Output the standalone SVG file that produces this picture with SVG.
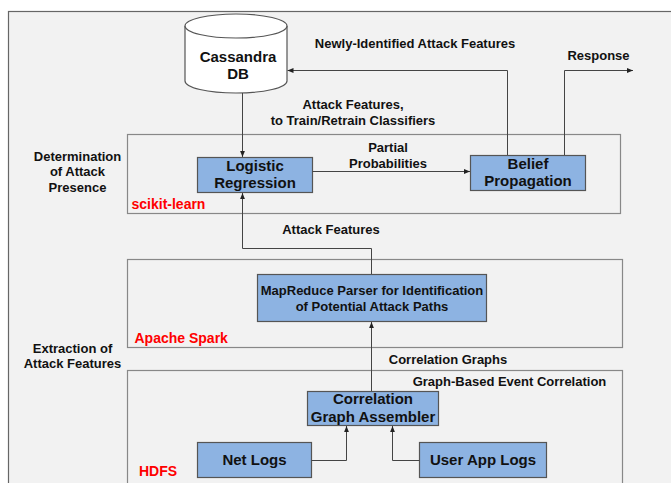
<svg xmlns="http://www.w3.org/2000/svg" width="671" height="483" viewBox="0 0 671 483">
<defs>
<marker id="ah" viewBox="0 0 10 10" refX="10" refY="5" markerWidth="6" markerHeight="6" markerUnits="userSpaceOnUse" orient="auto">
<path d="M0,1 L10,5 L0,9 z" fill="#222"/>
</marker>
</defs>
<style>
text{font-family:"Liberation Sans",Arial,sans-serif;font-weight:bold;fill:#111;text-anchor:middle}
.frame{fill:#f2f2f2;stroke:#666;stroke-width:1.2}
.cont{fill:none;stroke:#888;stroke-width:1.2}
.box{fill:#8db3e2;stroke:#555;stroke-width:1.2}
.conn{fill:none;stroke:#444;stroke-width:1}
.red{fill:#ff0000;text-anchor:start;font-size:14px}
.lbl{font-size:13px}
.bt{font-size:15px}
</style>
<rect width="671" height="483" fill="#ffffff"/>
<rect class="frame" x="8.5" y="11.5" width="700" height="500"/>

<g id="containers">
<rect class="cont" x="127.5" y="134.5" width="493" height="79"/>
<rect class="cont" x="127.5" y="259.5" width="495" height="88"/>
<rect class="cont" x="127.5" y="370.5" width="495" height="130"/>
</g>

<g id="labels">
<text class="lbl" x="415" y="48">Newly-Identified Attack Features</text>
<text class="lbl" x="598.5" y="59.5">Response</text>
<text class="lbl" x="353" y="108.5">Attack Features,</text>
<text class="lbl" x="353" y="124.5">to Train/Retrain Classifiers</text>
<text class="lbl" x="388" y="151.5">Partial</text>
<text class="lbl" x="388" y="167.5">Probabilities</text>
<text class="lbl" x="77.5" y="160.5">Determination</text>
<text class="lbl" x="77.5" y="175.5">of Attack</text>
<text class="lbl" x="77.5" y="191.5">Presence</text>
<text class="lbl" x="331" y="233.5">Attack Features</text>
<text class="lbl" x="72.5" y="352.5">Extraction of</text>
<text class="lbl" x="72.5" y="368">Attack Features</text>
<text class="lbl" x="448" y="363.5">Correlation Graphs</text>
<text class="lbl" x="509.5" y="385.5">Graph-Based Event Correlation</text>
<text class="red" x="131.5" y="209">scikit-learn</text>
<text class="red" x="134.5" y="342.5">Apache Spark</text>
<text class="red" x="139" y="475.5">HDFS</text>
</g>

<g id="cassandra">
<path d="M185,26 L185,81 A51,12 0 0 0 287,81 L287,26" fill="#ffffff" stroke="#555" stroke-width="1.2"/>
<ellipse cx="236" cy="26" rx="51" ry="12" fill="#ffffff" stroke="#555" stroke-width="1.2"/>
<text class="bt" x="238" y="61.5">Cassandra</text>
<text class="bt" x="238" y="78.5">DB</text>
</g>

<g id="logistic">
<rect class="box" x="197.5" y="157.5" width="115" height="35"/>
<text class="bt" x="255" y="171">Logistic</text>
<text class="bt" x="255" y="188">Regression</text>
</g>

<g id="belief">
<rect class="box" x="470.5" y="155.5" width="115" height="35"/>
<text class="bt" x="528" y="168.5">Belief</text>
<text class="bt" x="528" y="186">Propagation</text>
</g>

<g id="mapreduce">
<rect class="box" x="257.5" y="274.5" width="229" height="47"/>
<text x="372" y="295" style="font-size:13px">MapReduce Parser for Identification</text>
<text x="372" y="310.5" style="font-size:13px">of Potential Attack Paths</text>
</g>

<g id="assembler">
<rect class="box" x="307.5" y="391.5" width="131" height="34"/>
<text class="bt" x="373" y="404">Correlation</text>
<text class="bt" x="373" y="421.5">Graph Assembler</text>
</g>

<g id="netlogs">
<rect class="box" x="197.5" y="442.5" width="114" height="35"/>
<text class="bt" x="254.5" y="465">Net Logs</text>
</g>

<g id="userapplogs">
<rect class="box" x="419.5" y="442.5" width="127" height="35"/>
<text class="bt" x="483" y="465">User App Logs</text>
</g>

<g id="connectors">
<path class="conn" d="M242.5,93 L242.5,157" marker-end="url(#ah)"/>
<path class="conn" d="M507.5,155 L507.5,70.5 L287.5,70.5" marker-end="url(#ah)"/>
<path class="conn" d="M564.5,155 L564.5,70.5 L633,70.5" marker-end="url(#ah)"/>
<path class="conn" d="M312.5,171.5 L470,171.5" marker-end="url(#ah)"/>
<path class="conn" d="M371.5,274 L371.5,248.5 L242.5,248.5 L242.5,193" marker-end="url(#ah)"/>
<path class="conn" d="M371.5,391 L371.5,322" marker-end="url(#ah)"/>
<path class="conn" d="M311.5,460.5 L346.5,460.5 L346.5,426" marker-end="url(#ah)"/>
<path class="conn" d="M419.5,460.5 L392.5,460.5 L392.5,426" marker-end="url(#ah)"/>
</g>
</svg>
